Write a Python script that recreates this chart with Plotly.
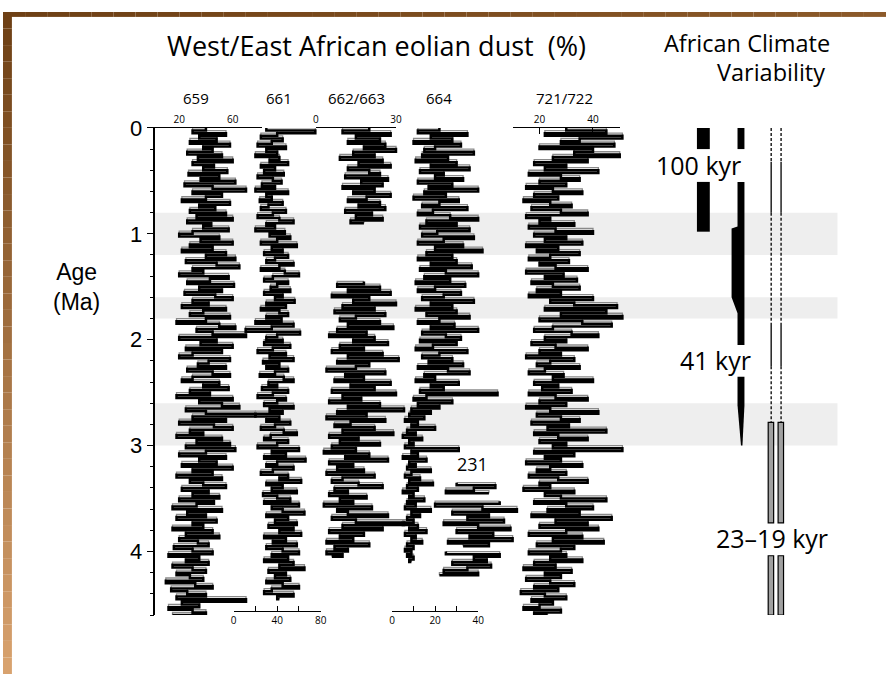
import numpy as np
import plotly.graph_objects as go

W, H = 892, 674
STEP = 0.025  # sampling interval of the dust records (Ma)

# ---------------- eolian dust records (% dust) ----------------
dust_659 = [
    40, 30, 55, 35, 48, 28, 58, 38, 45, 26,
    52, 34, 60, 30, 46, 38, 56, 27, 50, 36,
    62, 24, 45, 70, 30, 52, 40, 22, 58, 35,
    47, 28, 55, 33, 60, 26, 44, 38, 57, 30,
    20, 50, 36, 60, 28, 45, 22, 55, 40, 62,
    25, 48, 65, 30, 38, 20, 57, 43, 26, 61,
    35, 52, 24, 47, 60, 30, 42, 22, 55, 38,
    28, 58, 40, 18, 50, 62, 33, 45, 70, 20,
    48, 36, 60, 25, 52, 30, 20, 58, 42, 34,
    55, 26, 45, 58, 30, 22, 50, 38, 57, 28,
    43, 18, 60, 35, 52, 65, 25, 40, 77, 30,
    55, 20, 46, 60, 28, 38, 18, 52, 33, 58,
    25, 62, 40, 20, 55, 35, 48, 22, 60, 30,
    45, 18, 52, 28, 38, 55, 22, 42, 30, 50,
    20, 46, 33, 15, 52, 26, 40, 18, 48, 30,
    38, 15, 45, 25, 50, 20, 34, 42, 16, 30,
    45, 12, 35, 25, 42, 15, 30, 40, 18, 28,
    38, 10, 32, 45, 14, 26, 40, 18, 70, 22,
    35, 12, 30, 40, 15,
]
dust_661 = [
    30, 75, 40, 25, 45, 35, 22, 48, 30, 40,
    20, 42, 33, 50, 25, 38, 28, 46, 22, 36,
    44, 26, 38, 20, 50, 30, 35, 24, 45, 32,
    25, 48, 36, 22, 42, 55, 30, 38, 20, 47,
    33, 52, 40, 25, 58, 35, 45, 28, 50, 38,
    30, 55, 42, 25, 47, 60, 36, 28, 50, 40,
    34, 52, 28, 45, 38, 56, 30, 48, 25, 42,
    50, 30, 44, 20, 55, 35, 11, 61, 40, 30,
    45, 28, 52, 36, 22, 48, 33, 55, 27, 42,
    30, 50, 38, 24, 46, 55, 32, 40, 26, 50,
    36, 22, 48, 40, 28, 55, 33, 45, 20, 42,
    30, 52, 38, 25, 46, 58, 34, 28, 50, 40,
    22, 60, 35, 48, 28, 66, 40, 30, 55, 36,
    25, 50, 42, 62, 30, 45, 35, 58, 27, 40,
    52, 28, 60, 35, 45, 65, 30, 50, 38, 58,
    32, 55, 42, 62, 28, 48, 36, 58, 30, 45,
    60, 35, 50, 28, 55, 42, 65, 32, 48, 38,
    52, 30, 45, 60, 35, 28, 55, 40, 42,
]
dust_662_663_upper = [
    20, 10, 28, 15, 24, 12, 26, 18, 30, 14,
    22, 9, 25, 16, 28, 12, 20, 24, 11, 27,
    17, 25, 10, 22, 14, 28, 19, 12, 24, 16,
    26, 11, 21, 15, 25, 13, 18,
]
dust_662_663_lower = [
    18, 8, 24, 12, 28, 6, 20, 14, 30, 10,
    22, 7, 26, 15, 9, 24, 12, 29, 8, 19,
    5, 22, 14, 27, 9, 18, 6, 25, 12, 31,
    8, 20, 15, 4, 26, 11, 18, 7, 28, 13,
    22, 6, 30, 10, 17, 5, 24, 12, 33, 8,
    19, 4, 26, 13, 7, 22, 10, 29, 5, 16,
    9, 24, 6, 15, 3, 20, 11, 27, 5, 14,
    8, 18, 4, 22, 10, 6, 16, 25, 7, 12,
    5, 19, 9, 14, 3, 21, 8, 12, 27, 6,
    15, 33, 10, 25, 5, 18, 9, 14, 4, 20,
    7, 12, 4, 10, 6,
]
dust_664 = [
    22, 12, 35, 18, 28, 10, 32, 20, 15, 38,
    14, 26, 11, 30, 18, 36, 13, 24, 20, 33,
    12, 28, 17, 40, 15, 25, 10, 31, 22, 14,
    35, 19, 12, 27, 40, 16, 30, 13, 36, 21,
    14, 38, 24, 12, 33, 20, 42, 16, 28, 12,
    30, 18, 37, 13, 25, 40, 15, 27, 11, 34,
    20, 12, 32, 24, 14, 38, 18, 28, 11, 30,
    16, 36, 22, 12, 29, 18, 40, 14, 25, 32,
    13, 30, 19, 11, 35, 22, 14, 28, 17, 33,
    12, 26, 36, 15, 20, 11, 31, 18, 24, 13,
    49, 16, 10, 28, 12, 22, 9, 18, 8, 15,
    6, 12, 9, 20, 7, 11, 5, 14, 8, 10,
    6, 31, 9, 12, 5, 16, 8, 11, 7, 18,
    9, 6, 13, 8, 19, 7, 12, 5, 10, 8,
    15, 7, 11, 6, 18, 9, 13, 7, 10, 5,
    12, 8, 16, 6, 11, 9, 14, 7, 10, 6,
    9, 7, 10, 8, 9,
]
dust_231 = [
    30, 48, 38, 25, 45, None, None, 50, 20, 42,
    58, 28, 45, 35, 52, 24, 40, 55, 30, 47,
    36, 56, 26, 45, 33, None, 25, 50, 38, 44,
    28, 46, 35, 24, 40, 22,
]
dust_721_722 = [
    30, 45, 22, 51, 35, 28, 48, 20, 40, 33,
    50, 25, 38, 18, 30, 22, 42, 16, 28, 35,
    20, 30, 15, 25, 36, 18, 27, 14, 24, 32,
    17, 28, 38, 15, 24, 20, 33, 16, 26, 40,
    18, 30, 22, 36, 15, 27, 19, 35, 24, 16,
    31, 20, 26, 38, 15, 29, 22, 34, 17, 25,
    35, 19, 28, 16, 40, 24, 33, 49, 22, 45,
    28, 51, 20, 36, 47, 25, 18, 32, 42, 22,
    30, 17, 26, 38, 20, 28, 15, 33, 24, 19,
    35, 22, 16, 29, 25, 40, 18, 27, 21, 32,
    16, 26, 38, 20, 30, 15, 24, 42, 19, 28,
    35, 17, 31, 23, 45, 18, 27, 38, 20, 30,
    25, 51, 18, 33, 22, 28, 15, 36, 24, 19,
    30, 16, 27, 38, 20, 24, 14, 33, 22, 28,
    45, 18, 30, 40, 23, 35, 17, 47, 26, 38,
    20, 42, 30, 16, 36, 25, 44, 19, 33, 28,
    16, 30, 24, 36, 18, 26, 14, 32, 22, 28,
    15, 24, 33, 18, 27, 13, 22, 30, 17, 25,
    20, 14, 28, 18, 23,
]

record_names = ["659", "661", "662/663", "664", "721/722"]

# glacial-interglacial transition intervals (Ma)
band_top = [0.8, 1.6, 2.6]
band_bottom = [1.2, 1.8, 3.0]

# African climate variability intervals (Ma)
kyr100_spans = [(0.0, 0.2), (0.51, 0.98)]
kyr41_top_span = (0.0, 0.2)
kyr41_upper = dict(start=0.51, widen=0.95, narrow_a=1.6, narrow_b=1.75, end=2.05)
kyr41_lower = dict(start=2.35, taper=2.62, end=3.0)
precession_lines = [(0.0, 0.32, "dash"), (0.32, 0.8, "solid"), (0.8, 1.86, "dash"),
                    (1.86, 2.25, "solid"), (2.25, 2.78, "dash")]
precession_bars = [(2.78, 3.73), (4.04, 4.6)]


def fx(px):
    return px / W


def fy(py):
    return 1 - py / H


def ages(start, n):
    return np.round(start + STEP * np.arange(n), 4)


FONT = "Open Sans"
fig = go.Figure()

# pixel mapping of each data axis: px = a + b * value, drawn over [left, right]
data_axes = {
    "x": dict(a=151, b=1.35, left=150, right=330),
    "x2": dict(a=233, b=1.10, left=233, right=335),
    "x3": dict(a=316, b=2.70, left=318, right=425),
    "x4": dict(a=393, b=2.175, left=395, right=530),
    "x5": dict(a=488, b=2.70, left=500, right=640),
}

series = [
    ("x", dust_659, 0.0),
    ("x2", dust_661, 0.0),
    ("x3", dust_662_663_upper, 0.0),
    ("x3", dust_662_663_lower, 1.45),
    ("x4", dust_664, 0.0),
    ("x4", dust_231, 3.35),
    ("x5", dust_721_722, 0.0),
]

for ax, vals, start in series:
    yy = ages(start, len(vals))
    # gray trace steps on the earlier sample, black trace on the later one
    fig.add_trace(go.Scatter(x=vals, y=yy, xaxis=ax, yaxis="y", mode="lines",
                             line=dict(color="#8a8a8a", width=1.3, shape="hv"),
                             hoverinfo="skip", showlegend=False))
    fig.add_trace(go.Scatter(x=vals, y=yy, xaxis=ax, yaxis="y", mode="lines",
                             line=dict(color="black", width=2.5, shape="vh"),
                             hoverinfo="skip", showlegend=False))

# scale-bar axes carry no data of their own
for ax in ["x6", "x7", "x8", "x9", "x10"]:
    fig.add_trace(go.Scatter(x=[None], y=[None], xaxis=ax, yaxis="y", mode="lines",
                             hoverinfo="skip", showlegend=False))

layout_axes = {}
for ax, m in data_axes.items():
    key = "xaxis" if ax == "x" else "xaxis" + ax[1:]
    layout_axes[key] = dict(
        domain=[fx(m["left"]), fx(m["right"])],
        range=[(m["left"] - m["a"]) / m["b"], (m["right"] - m["a"]) / m["b"]],
        anchor="y", visible=False, showgrid=False, zeroline=False)

tick_font = dict(family=FONT, size=10, color="black")
common = dict(showline=True, linecolor="black", linewidth=1.2, showgrid=False,
              zeroline=False, tickfont=tick_font, tickcolor="black", tickwidth=1)

layout_axes["xaxis6"] = dict(domain=[fx(153), fx(262)],
                             range=[(153 - 151) / 1.35, (262 - 151) / 1.35],
                             anchor="y", side="top", ticks="", tickvals=[20, 60], **common)
layout_axes["xaxis7"] = dict(domain=[fx(233), fx(321)], range=[0, 80], anchor="free",
                             position=fy(610), side="bottom", ticks="inside", ticklen=5,
                             tickvals=[0, 20, 40, 60, 80], ticktext=["0", "", "40", "", "80"],
                             **common)
layout_axes["xaxis8"] = dict(domain=[fx(316), fx(397)], range=[0, 30], anchor="y",
                             side="top", ticks="inside", ticklen=6, tickvals=[0, 30], **common)
layout_axes["xaxis9"] = dict(domain=[fx(393), fx(480)], range=[0, 40], anchor="free",
                             position=fy(610), side="bottom", ticks="inside", ticklen=5,
                             tickvals=[0, 10, 20, 30, 40], ticktext=["0", "", "20", "", "40"],
                             **common)
layout_axes["xaxis10"] = dict(domain=[fx(515), fx(623)], range=[10, 50], anchor="y",
                              side="top", ticks="inside", ticklen=6,
                              tickvals=[10, 20, 40, 50], ticktext=["", "20", "40", ""], **common)

shapes = []

# slide frame: brown gradient strips along the top and left edges
n_strip = 40
c_top = np.array([0x6e, 0x40, 0x15])
c_bot = np.array([0xd8, 0xa2, 0x6e])
for k in range(n_strip):
    t = k / (n_strip - 1)
    c = (c_top + (c_bot - c_top) * t).astype(int)
    shapes.append(dict(type="rect", xref="paper", yref="paper", x0=0, x1=fx(9),
                       y0=fy(H * (k + 1) / n_strip), y1=fy(H * k / n_strip),
                       fillcolor="rgb(%d,%d,%d)" % tuple(c), line=dict(width=0), layer="above"))
c_right = np.array([0x8c, 0x5a, 0x2a])
for k in range(n_strip):
    t = k / (n_strip - 1)
    c = (c_top + (c_right - c_top) * t).astype(int)
    shapes.append(dict(type="rect", xref="paper", yref="paper",
                       x0=fx(W * k / n_strip), x1=fx(W * (k + 1) / n_strip),
                       y0=fy(5), y1=1, fillcolor="rgb(%d,%d,%d)" % tuple(c),
                       line=dict(width=0), layer="above"))

# shaded intervals
for t0, t1 in zip(band_top, band_bottom):
    shapes.append(dict(type="rect", xref="paper", yref="y", x0=fx(153), x1=fx(843),
                       y0=t0, y1=t1, fillcolor="#eeeeee", line=dict(width=0), layer="below"))

# 100 kyr bar
for t0, t1 in kyr100_spans:
    shapes.append(dict(type="rect", xref="paper", yref="y", x0=fx(701), x1=fx(714),
                       y0=t0, y1=t1, fillcolor="black", line=dict(width=0)))

# 41 kyr bar
shapes.append(dict(type="rect", xref="paper", yref="y", x0=fx(742), x1=fx(749),
                   y0=kyr41_top_span[0], y1=kyr41_top_span[1], fillcolor="black",
                   line=dict(width=0)))
u = kyr41_upper
pts = [(742, u["start"]), (749, u["start"]), (749, u["end"]), (742, u["end"]),
       (742, u["narrow_b"]), (736, u["narrow_a"]), (736, u["widen"]), (742, u["widen"] - 0.02)]
path = "M " + " L ".join("%.5f,%.4f" % (fx(px), t) for px, t in pts) + " Z"
shapes.append(dict(type="path", xref="paper", yref="y", path=path, fillcolor="black",
                   line=dict(width=0)))
lo = kyr41_lower
pts = [(742, lo["start"]), (749, lo["start"]), (749, lo["taper"]), (747, lo["end"]),
       (745.5, lo["end"]), (742, lo["taper"])]
path = "M " + " L ".join("%.5f,%.4f" % (fx(px), t) for px, t in pts) + " Z"
shapes.append(dict(type="path", xref="paper", yref="y", path=path, fillcolor="black",
                   line=dict(width=0)))

# 23-19 kyr precession lines and bars
for xpx in (776, 786):
    for t0, t1, style in precession_lines:
        shapes.append(dict(type="line", xref="paper", yref="y", x0=fx(xpx), x1=fx(xpx),
                           y0=t0, y1=t1,
                           line=dict(color="black", width=1.3,
                                     dash="3px,2px" if style == "dash" else "solid")))
for x0, x1 in ((773, 778.5), (783, 788.5)):
    for t0, t1 in precession_bars:
        shapes.append(dict(type="rect", xref="paper", yref="y", x0=fx(x0), x1=fx(x1),
                           y0=t0, y1=t1, fillcolor="#a0a0a0",
                           line=dict(color="black", width=1.2)))

annotations = []


def label(text, px, py, size, family=FONT, **kw):
    annotations.append(dict(text=text, x=fx(px), y=fy(py), xref="paper", yref="paper",
                            showarrow=False, xanchor="center", yanchor="middle",
                            font=dict(family=family, size=size, color="black"), **kw))


label("West/East African eolian dust  (%)", 377, 34, 27)
label("African Climate", 752, 32, 23.5)
label("Variability", 776, 61, 23.5)
for name, px in zip(record_names, [195, 279, 357, 440, 567]):
    label(name, px, 88, 15)
label("231", 474, 460, 18)
label("Age<br>(Ma)", 74, 280, 23, family="Liberation Sans")
label("100 kyr", 703, 156, 25)
label("41 kyr", 720, 354, 25)
label("23\u201319 kyr", 777, 536, 25)

fig.update_layout(
    width=W, height=H, margin=dict(l=0, r=0, t=0, b=0),
    paper_bgcolor="white", plot_bgcolor="rgba(0,0,0,0)",
    showlegend=False, shapes=shapes, annotations=annotations,
    yaxis=dict(domain=[fy(614), fy(118)], range=[4.6, 0], anchor="free", position=fx(153),
               showline=True, linecolor="black", linewidth=1.5, ticks="outside", ticklen=7,
               tickwidth=1.3, tickcolor="black", tickvals=[0, 1, 2, 3, 4],
               tickfont=dict(family="Liberation Sans", size=22, color="black"),
               minor=dict(dtick=0.2, tick0=0, ticks="outside", ticklen=4,
                          tickcolor="black", tickwidth=1),
               showgrid=False, zeroline=False),
    **layout_axes,
)

fig.write_html("out.html")
